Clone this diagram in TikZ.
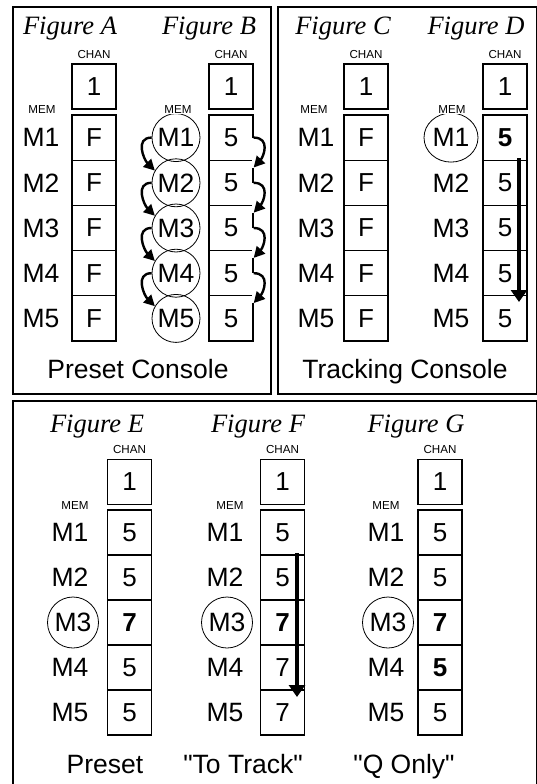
\documentclass[tikz,border=0pt]{standalone}
\usepackage{fontspec}
\setmainfont{Liberation Sans}[Ligatures=TeXOff]
\newfontfamily\titlefont{Liberation Serif}
\usetikzlibrary{arrows.meta,shapes.geometric}
\begin{document}
\begin{tikzpicture}[x=1pt,y=-1pt,
  panel/.style={draw, line width=1.2pt},
  cell/.style={draw, line width=1.3pt, minimum width=44pt, minimum height=45.2pt, inner sep=0pt, font=\fontsize{26}{26}\selectfont},
  lbl/.style={inner sep=0pt, font=\fontsize{26.5}{26.5}\selectfont},
  circ/.style={lbl, draw, circle, line width=0.8pt, minimum size=48pt},
  small/.style={inner sep=0.5pt, font=\fontsize{11.6}{11.6}\selectfont},
  ttl/.style={anchor=base, inner sep=0pt, font=\titlefont\itshape\fontsize{26.5}{26.5}\selectfont},
  captxt/.style={anchor=base, inner sep=0pt, font=\fontsize{26.5}{26.5}\selectfont},
  curarr/.style={line width=2.4pt, -{Triangle[length=11pt,width=11pt]}},
  bigarr/.style={line width=3.3pt, -{Triangle[length=12pt,width=16pt]}}
]
\useasboundingbox (0,0) rectangle (536,784);
% panels
\draw[panel] (13,7) rectangle (271,394);
\draw[panel] (278,7) rectangle (537,394);
\draw[panel] (13,401) rectangle (537,786);

% ---------- Figure A ----------
\node[ttl] (tA) at (70,35) {Figure A};
\node[small] (chA) at (94,55) {CHAN};
\node[cell] (A0) at (94,86.5) {1};
\node[small] (memA) at (42,110) {MEM};
\foreach \v [count=\i] in {F,F,F,F,F} {
  \node[cell] (A\i) at (94,92.4+45.2*\i) {\v};
  \node[lbl] (Am\i) at (41,92.4+45.2*\i) {M\i};
}

% ---------- Figure B ----------
\node[ttl] (tB) at (209,35) {Figure B};
\node[small] (chB) at (231,55) {CHAN};
\node[cell] (B0) at (231,86.5) {1};
\foreach \v [count=\i] in {5,5,5,5,5} {
  \node[cell] (B\i) at (231,92.4+45.2*\i) {\v};
  \node[circ] (Bm\i) at (176,92.4+45.2*\i) {M\i};
}
\node[small, fill=white] (memB) at (178,110) {MEM};
\foreach \i/\j in {1/2,2/3,3/4,4/5} {
  \draw[white, line width=3pt] (B\i.east) -- (B\j.34);
  \draw[curarr] (B\i.east) .. controls +(17,0) and +(10,-11) .. (B\j.34);
  \draw[curarr] (Bm\i.west) .. controls +(-17,0) and +(-11,-11) .. (Bm\j.150);
}

% ---------- Figure C ----------
\node[ttl] (tC) at (343,35) {Figure C};
\node[small] (chC) at (366,55) {CHAN};
\node[cell] (C0) at (366,86.5) {1};
\node[small] (memC) at (314,110) {MEM};
\foreach \v [count=\i] in {F,F,F,F,F} {
  \node[cell] (C\i) at (366,92.4+45.2*\i) {\v};
  \node[lbl] (Cm\i) at (316,92.4+45.2*\i) {M\i};
}

% ---------- Figure D ----------
\node[ttl] (tD) at (476,35) {Figure D};
\node[small] (chD) at (505,55) {CHAN};
\node[cell] (D0) at (505,86.5) {1};
\foreach \v [count=\i] in {{\bfseries 5},5,5,5,5} {
  \node[cell] (D\i) at (505,92.4+45.2*\i) {\v};
}
\node[lbl, draw, ellipse, line width=0.8pt, minimum width=54pt, minimum height=49pt] (Dm1) at (451,137.6) {M1};
\foreach \i in {2,...,5} {
  \node[lbl] (Dm\i) at (451,92.4+45.2*\i) {M\i};
}
\node[small, fill=white] (memD) at (452,110) {MEM};
\coordinate (Dst) at (519,158);
\coordinate (Den) at (519,302);
\draw[bigarr] (Dst) -- (Den);

\node[captxt] (pc) at (138,378) {Preset Console};
\node[captxt] (tc) at (405,378) {Tracking Console};

% ---------- Figure E ----------
\node[ttl] (tE) at (97,432) {Figure E};
\node[small] (chE) at (129.5,450) {CHAN};
\node[cell] (E0) at (129.5,482) {1};
\node[small] (memE) at (75,506) {MEM};
\foreach \v [count=\i] in {5,5,{\bfseries 7},5,5} {
  \node[cell] (E\i) at (129.5,487.5+45*\i) {\v};
}
\foreach \i in {1,2,4,5} {
  \node[lbl] (Em\i) at (70,487.5+45*\i) {M\i};
}
\node[circ, minimum size=51pt] (Em3) at (73,622.5) {M3};

% ---------- Figure F ----------
\node[ttl] (tF) at (258,432) {Figure F};
\node[small] (chF) at (282.5,450) {CHAN};
\node[cell] (F0) at (282.5,482) {1};
\node[small] (memF) at (230,506) {MEM};
\foreach \v [count=\i] in {5,5,{\bfseries 7},7,7} {
  \node[cell] (F\i) at (282.5,487.5+45*\i) {\v};
}
\foreach \i in {1,2,4,5} {
  \node[lbl] (Fm\i) at (225,487.5+45*\i) {M\i};
}
\node[circ, minimum size=51pt] (Fm3) at (227,622.5) {M3};
\coordinate (Fst) at (297,553);
\coordinate (Fen) at (297,697);
\draw[bigarr] (Fst) -- (Fen);

% ---------- Figure G ----------
\node[ttl] (tG) at (416,432) {Figure G};
\node[small] (chG) at (440,450) {CHAN};
\node[cell] (G0) at (440,482) {1};
\node[small] (memG) at (386,506) {MEM};
\foreach \v [count=\i] in {5,5,{\bfseries 7},{\bfseries 5},5} {
  \node[cell] (G\i) at (440,487.5+45*\i) {\v};
}
\foreach \i in {1,2,4,5} {
  \node[lbl] (Gm\i) at (386,487.5+45*\i) {M\i};
}
\node[circ, minimum size=51pt] (Gm3) at (388,622.5) {M3};

\node[captxt] (lE) at (105,773) {Preset};
\node[captxt] (lF) at (243,773) {"To Track"};
\node[captxt] (lG) at (404,773) {"Q Only"};
\end{tikzpicture}
\end{document}
